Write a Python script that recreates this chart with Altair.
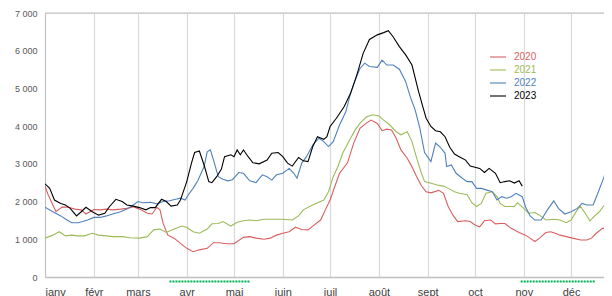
import json
import altair as alt
import pandas as pd

months = ["janv", "févr", "mars", "avr", "mai", "juin", "juil", "août", "sept", "oct", "nov", "déc"]
month_start = [0, 31, 59, 90, 120, 151, 181, 212, 243, 273, 304, 334]
y_ticks = [0, 1000, 2000, 3000, 4000, 5000, 6000, 7000]

series = ["2020", "2021", "2022", "2023"]
colors = ["#D95F5F", "#9BBB59", "#4F81BD", "#000000"]
widths = [1.1, 1.1, 1.1, 1.5]

red_days = [0, 2, 5, 7, 11, 15, 19, 23, 26, 31, 35, 39, 43, 48, 52, 56, 60, 65, 68, 71, 73, 75, 78, 82, 86, 90, 94, 98, 103, 107, 111, 115, 120, 126, 130, 134, 139, 143, 147, 151, 155, 159, 163, 167, 170, 175, 178, 181, 184, 187, 192, 196, 200, 204, 207, 211, 214, 217, 220, 223, 226, 230, 233, 236, 239, 242, 245, 248, 250, 253, 256, 259, 262, 267, 270, 273, 276, 279, 283, 286, 289, 292, 296, 301, 305, 308, 311, 314, 318, 321, 324, 327, 331, 335, 340, 344, 347, 350, 354, 357, 360, 364]
red_vals = [2410, 2180, 1910, 1730, 1860, 1850, 1800, 1780, 1670, 1790, 1780, 1800, 1780, 1800, 1820, 1860, 1800, 1690, 1670, 1850, 1780, 1420, 1110, 1030, 890, 760, 670, 720, 760, 910, 910, 880, 880, 1050, 1070, 1030, 1000, 1030, 1110, 1160, 1200, 1320, 1260, 1250, 1350, 1510, 1780, 2040, 2400, 2750, 3020, 3550, 3940, 4080, 4160, 4070, 3880, 3920, 3900, 3680, 3370, 3150, 2920, 2660, 2420, 2260, 2230, 2270, 2300, 2220, 1870, 1640, 1470, 1490, 1470, 1380, 1330, 1490, 1510, 1410, 1420, 1420, 1290, 1180, 1110, 1030, 940, 1030, 1180, 1200, 1160, 1110, 1070, 1030, 980, 980, 1030, 1160, 1290, 1290, 1250, 1230]

green_days = [0, 5, 9, 13, 17, 21, 25, 30, 34, 39, 43, 49, 54, 60, 65, 69, 73, 77, 82, 87, 90, 94, 98, 103, 106, 110, 113, 118, 122, 126, 130, 134, 139, 145, 151, 157, 161, 164, 168, 172, 177, 180, 183, 186, 189, 194, 197, 200, 204, 208, 212, 215, 219, 223, 226, 230, 233, 236, 239, 241, 244, 249, 253, 257, 260, 263, 268, 271, 274, 277, 280, 284, 287, 289, 292, 295, 298, 300, 304, 307, 311, 314, 318, 323, 327, 331, 334, 338, 340, 343, 346, 349, 352, 356, 359, 361, 364]
green_vals = [1030, 1110, 1200, 1090, 1110, 1090, 1090, 1160, 1110, 1090, 1070, 1070, 1040, 1030, 1070, 1250, 1270, 1180, 1270, 1350, 1320, 1200, 1160, 1270, 1410, 1420, 1470, 1350, 1450, 1490, 1510, 1490, 1530, 1530, 1530, 1510, 1620, 1780, 1870, 1950, 2040, 2260, 2660, 2930, 3280, 3680, 3900, 4080, 4240, 4300, 4270, 4160, 4030, 3850, 3770, 3850, 3590, 3150, 2750, 2530, 2500, 2440, 2410, 2330, 2260, 2220, 2180, 1970, 1870, 1950, 2220, 2260, 2130, 1950, 1870, 1870, 1870, 1970, 1820, 1690, 1710, 1640, 1510, 1530, 1510, 1440, 1510, 1780, 1870, 1690, 1490, 1620, 1730, 1950, 2220, 2310, 2400]

blue_days = [0, 5, 10, 14, 17, 21, 24, 27, 31, 35, 39, 43, 48, 52, 56, 59, 62, 67, 71, 75, 79, 83, 86, 89, 91, 94, 97, 101, 103, 105, 107, 110, 113, 116, 119, 123, 126, 130, 134, 138, 141, 144, 147, 151, 155, 158, 160, 163, 166, 170, 174, 177, 180, 183, 187, 191, 194, 197, 200, 203, 206, 211, 214, 217, 221, 225, 229, 232, 235, 238, 241, 245, 248, 251, 254, 255, 258, 261, 265, 268, 271, 274, 277, 280, 284, 287, 290, 293, 296, 299, 303, 305, 308, 311, 315, 319, 323, 326, 330, 334, 338, 341, 344, 348, 351, 355, 357, 359, 361, 364]
blue_vals = [1850, 1730, 1620, 1510, 1440, 1440, 1470, 1510, 1580, 1580, 1620, 1670, 1730, 1800, 1910, 2000, 1970, 1980, 1940, 2000, 2020, 2060, 2090, 2040, 2180, 2350, 2550, 2930, 3320, 3370, 3100, 2660, 2590, 2550, 2580, 2770, 2750, 2550, 2500, 2710, 2660, 2570, 2710, 2750, 2880, 2750, 2620, 3020, 3190, 3500, 3680, 3590, 3460, 3590, 4030, 4380, 4870, 5220, 5530, 5670, 5580, 5560, 5750, 5620, 5620, 5510, 5180, 4770, 4430, 3950, 3300, 3060, 3550, 3440, 3280, 2930, 2970, 2750, 2620, 2530, 2530, 2350, 2350, 2310, 2260, 2040, 2130, 2090, 2130, 2220, 2130, 1870, 1620, 1510, 1510, 1780, 2020, 1820, 1670, 1730, 1820, 1950, 1910, 1910, 2220, 2660, 3020, 3100, 3060, 3000]

black_days = [0, 3, 6, 10, 13, 16, 20, 23, 26, 30, 34, 38, 41, 45, 49, 52, 56, 60, 64, 67, 70, 74, 77, 80, 84, 86, 90, 93, 95, 98, 101, 104, 106, 109, 112, 114, 118, 120, 122, 124, 126, 129, 132, 136, 141, 144, 148, 151, 154, 157, 161, 164, 167, 170, 173, 177, 179, 181, 185, 190, 194, 198, 202, 206, 211, 215, 218, 221, 225, 229, 233, 237, 240, 242, 245, 248, 251, 254, 257, 260, 263, 267, 270, 273, 276, 279, 282, 286, 289, 292, 295, 298, 301, 303]
black_vals = [2470, 2350, 2040, 1950, 1910, 1820, 1620, 1730, 1850, 1730, 1640, 1690, 1870, 2060, 2000, 1910, 1880, 1840, 1780, 1840, 1840, 2060, 2000, 1880, 1910, 2040, 2530, 3020, 3300, 3340, 2970, 2530, 2500, 2660, 2860, 3190, 3240, 3190, 3370, 3240, 3370, 3190, 3030, 3000, 3100, 3280, 3300, 3190, 3020, 2940, 3170, 3080, 3060, 3460, 3720, 3650, 3720, 3990, 4210, 4520, 4870, 5360, 5930, 6300, 6420, 6480, 6530, 6370, 6110, 5890, 5620, 4950, 4500, 4210, 3990, 3880, 3850, 3720, 3440, 3260, 3190, 3100, 2940, 2910, 2880, 2770, 2880, 2750, 2500, 2530, 2550, 2490, 2550, 2410]

lock_start = [79, 302]
lock_end = [130, 349]

PLOT_W = 559
PLOT_H = 264
X_END = PLOT_W / 1.575

rows = []
for name, days, vals in [("2020", red_days, red_vals), ("2021", green_days, green_vals),
                         ("2022", blue_days, blue_vals), ("2023", black_days, black_vals)]:
    for d, v in zip(days, vals):
        rows.append({"year": name, "day": d, "value": v})
df = pd.DataFrame(rows)
lock_df = pd.DataFrame({"start": lock_start, "end": lock_end})

x_scale = alt.Scale(domain=[0, X_END], nice=False, zero=False)
y_scale = alt.Scale(domain=[0, 7000], nice=False)

month_expr = "%s[indexof(%s, datum.value)]" % (json.dumps(months, ensure_ascii=False), json.dumps(month_start))
color_expr = "%s[indexof(%s, datum.label)]" % (json.dumps(colors), json.dumps(series))

lines = alt.Chart(df).mark_line(clip=True).encode(
    x=alt.X("day:Q", scale=x_scale,
            axis=alt.Axis(values=month_start, labelExpr=month_expr, title=None, grid=True,
                          gridColor="#D9D9D9", gridWidth=1.2, domainColor="#BFBFBF", domainWidth=1.5,
                          ticks=False, tickSize=0, labelPadding=9, labelFontSize=11,
                          labelColor="#404040", labelFont="Liberation Sans")),
    y=alt.Y("value:Q", scale=y_scale,
            axis=alt.Axis(values=y_ticks, labelExpr="replace(format(datum.value, ','), ',', ' ')",
                          title=None, grid=False, ticks=False, tickSize=0, labelPadding=8,
                          labelFontSize=9, labelColor="#595959", labelFont="Liberation Sans",
                          domainColor="#BFBFBF", domainWidth=1)),
    color=alt.Color("year:N", scale=alt.Scale(domain=series, range=colors),
                    legend=alt.Legend(title=None, orient="none", legendX=447, legendY=38,
                                      symbolType="M-1.6,0H1.6", symbolSize=100, symbolStrokeWidth=1.5,
                                      labelFontSize=10, labelFont="Liberation Sans", labelOffset=10,
                                      labelColor=alt.ExprRef(color_expr), rowPadding=2, padding=0)),
    strokeWidth=alt.StrokeWidth("year:N", scale=alt.Scale(domain=series, range=widths), legend=None),
)

rules = alt.Chart(lock_df).mark_rule(color="#00B050", strokeWidth=2, strokeDash=[2, 1]).encode(
    x=alt.X("start:Q", scale=x_scale),
    x2="end:Q",
    y=alt.value(268.5),
)

top_border = alt.Chart(lock_df.head(1)).mark_rule(color="#BFBFBF", strokeWidth=1).encode(
    x=alt.value(0), x2=alt.value(PLOT_W), y=alt.value(0),
)

chart = alt.layer(lines, rules, top_border).properties(
    width=PLOT_W, height=PLOT_H,
    autosize=alt.AutoSizeParams(type="none"),
    padding={"left": 37, "top": 5, "right": 0, "bottom": 20},
).configure_view(strokeWidth=0).configure(font="Liberation Sans")

chart.save("out.html", embed_options={"renderer": "svg", "actions": False})
